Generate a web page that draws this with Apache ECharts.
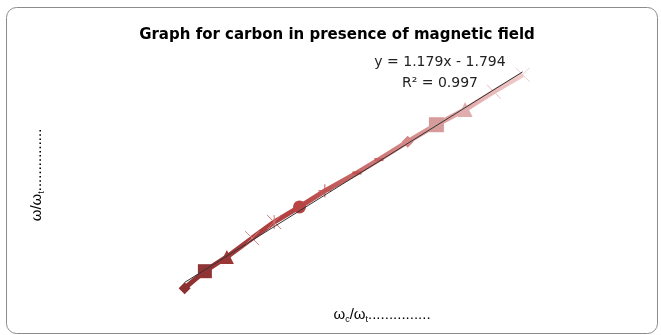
<!DOCTYPE html>
<html>
<head>
<meta charset="utf-8">
<script src="https://cdn.jsdelivr.net/npm/echarts@6/dist/echarts.min.js"></script>
<style>html,body{margin:0;padding:0;background:#fff;}#c{width:661px;height:335px;}</style>
</head>
<body>
<div id="c"></div>
<script>
// Data
const xValues = [2.00, 2.12, 2.25, 2.40, 2.53, 2.68, 2.83, 3.02, 3.15, 3.32, 3.49, 3.66, 3.83, 4.00];
const yValues = [0.50, 0.69, 0.85, 1.06, 1.24, 1.41, 1.59, 1.79, 1.94, 2.14, 2.33, 2.50, 2.70, 2.89];
const trendSlope = 1.179;
const trendIntercept = -1.794;
const rSquared = 0.997;
const titleText = 'Graph for carbon in presence of magnetic field';
const equationText = 'y = 1.179x - 1.794';

const markerShapes = ['diamond','rect','triangle','path://M0,0L10,10M10,0L0,10','path://M0,0L10,10M10,0L0,10M5,0L5,10','circle','path://M5,0L5,10M0,5L10,5','rect','rect','diamond','rect','triangle','path://M0,0L10,10M10,0L0,10','path://M0,0L10,10M10,0L0,10'];
const markerSizes = [12,14,14,14,14,13,13,[9,3],[9,3],12,15,15,14,14];
const markerRotate = [0,0,0,0,0,0,0,0,0,0,0,0,0,0];
const markerColors = ['#8c3030','#903535','#9a3636','#d88a8a','#d07474','#b84444','#c05050','#c05050','#c86060','#d58787','#d69b9b','#dfadad','#ebbcbc','#f2cccc'];
const strokeOnly = [false,false,false,true,true,false,true,false,false,false,false,false,true,true];

const chart = echarts.init(document.getElementById('c'));
const data = xValues.map((x,i)=>({
  value:[x,yValues[i]],
  symbol: markerShapes[i],
  symbolSize: markerSizes[i],
  symbolRotate: markerRotate[i],
  itemStyle: strokeOnly[i] ? {color:'none', borderColor:markerColors[i], borderWidth:1} : {color:markerColors[i], borderWidth:0}
}));
const xMin = Math.min(...xValues), xMax = Math.max(...xValues);
const trend = [[xMin, trendSlope*xMin+trendIntercept],[xMax, trendSlope*xMax+trendIntercept]];
const labelRich = {a:{fontFamily:'Liberation Sans', fontSize:15, fill:'#000'}, s:{fontFamily:'Liberation Sans', fontSize:9, padding:[9,0,0,0], fill:'#000'}};

chart.setOption({
  animation:false,
  grid:{left:100.1, right:53.9, top:20.25, bottom:2.2},
  xAxis:{type:'value', min:1.5, max:4.5, show:false},
  yAxis:{type:'value', min:0, max:3.5, show:false},
  graphic:[
    {type:'rect', shape:{x:6.5,y:7.5,width:651,height:326,r:10}, style:{fill:'none',stroke:'#8c8c8c',lineWidth:1}, z:-1},
    {type:'text', x:337, y:35, style:{text:titleText, textAlign:'center', textVerticalAlign:'middle', font:'bold 15px "DejaVu Sans"', fill:'#000'}},
    {type:'text', x:440, y:62, style:{text:equationText, textAlign:'center', textVerticalAlign:'middle', font:'14px "DejaVu Sans"', fill:'#222'}},
    {type:'text', x:440, y:83, style:{text:'R² = ' + rSquared.toFixed(3), textAlign:'center', textVerticalAlign:'middle', font:'14px "DejaVu Sans"', fill:'#222'}},
    {type:'text', x:382, y:315, style:{text:'{a|ω}{s|c}{a|/ω}{s|t}{a|...............}', textAlign:'center', textVerticalAlign:'middle', rich:labelRich}},
    {type:'text', x:37, y:175, rotation:Math.PI/2, style:{text:'{a|ω/ω}{s|t}{a|...............}', textAlign:'center', textVerticalAlign:'middle', rich:labelRich}}
  ],
  series:[
    {type:'line', data:data, z:2,
      lineStyle:{width:5, color:new echarts.graphic.LinearGradient(0,1,1,0,[
        {offset:0,color:'#8c3030'},{offset:0.35,color:'#b84444'},{offset:0.65,color:'#d58787'},{offset:1,color:'#f2cccc'}])}},
    {type:'line', data:trend, z:3, symbol:'none', lineStyle:{width:1, color:'#333'}}
  ]
});
</script>
</body>
</html>
